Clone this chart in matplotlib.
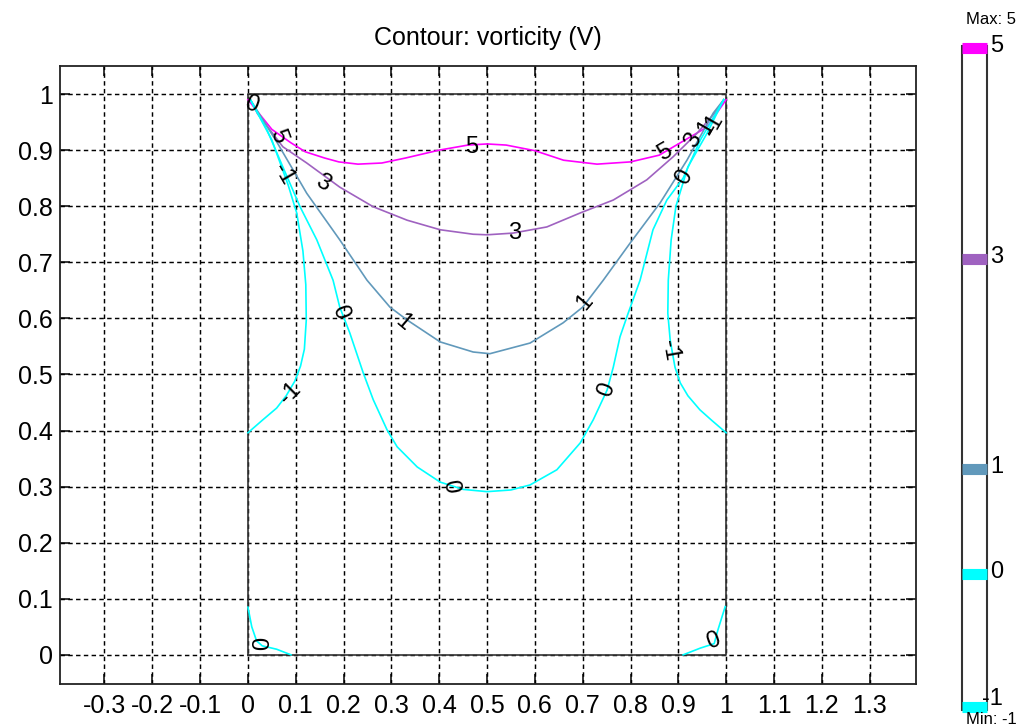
import numpy as np
import matplotlib
matplotlib.use("Agg")
import matplotlib.pyplot as plt
from matplotlib.ticker import FixedLocator, FuncFormatter

plt.rcParams['font.family'] = ['Liberation Sans', 'DejaVu Sans']
plt.rcParams['axes.unicode_minus'] = False
plt.rcParams['lines.scale_dashes'] = False

# ---------------- data ----------------
levels = [5, 3, 1, 0, -1]
level_colors = {5: '#ff00ff', 3: '#9f62c0', 1: '#6199bb', 0: '#00ffff', -1: '#00ffff'}

x5 = [0.0, 0.05, 0.09, 0.12, 0.16, 0.19, 0.23, 0.28, 0.33, 0.40, 0.46, 0.50,
      0.54, 0.60, 0.66, 0.73, 0.80, 0.86, 0.90, 0.96, 1.0]
y5 = [0.99, 0.937, 0.913, 0.897, 0.886, 0.879, 0.875, 0.877, 0.886, 0.900, 0.909, 0.911,
      0.909, 0.899, 0.882, 0.875, 0.879, 0.891, 0.911, 0.941, 0.99]

x3 = [0.005, 0.02, 0.073, 0.123, 0.192, 0.262, 0.333, 0.402, 0.471, 0.50, 0.554,
      0.625, 0.695, 0.764, 0.834, 0.889, 0.939, 0.98, 0.995]
y3 = [0.99, 0.965, 0.906, 0.877, 0.834, 0.799, 0.775, 0.758, 0.750, 0.749, 0.752,
      0.763, 0.788, 0.811, 0.847, 0.888, 0.930, 0.97, 0.99]

x1 = [0.005, 0.06, 0.123, 0.192, 0.249, 0.297, 0.333, 0.402, 0.471, 0.506, 0.59,
      0.659, 0.70, 0.743, 0.799, 0.862, 0.918, 0.973, 0.995]
y1 = [0.99, 0.915, 0.823, 0.740, 0.668, 0.620, 0.597, 0.558, 0.540, 0.537, 0.556,
      0.592, 0.620, 0.668, 0.734, 0.806, 0.882, 0.966, 0.99]

x0 = [0.005, 0.04, 0.073, 0.109, 0.144, 0.178, 0.192, 0.213, 0.241, 0.262, 0.291,
      0.312, 0.354, 0.402, 0.45, 0.50, 0.55, 0.59, 0.646, 0.695, 0.722, 0.751,
      0.764, 0.778, 0.795, 0.820, 0.847, 0.876, 0.91, 0.946, 0.995]
y0 = [0.99, 0.936, 0.870, 0.799, 0.740, 0.668, 0.620, 0.574, 0.503, 0.455, 0.401,
      0.371, 0.335, 0.308, 0.295, 0.291, 0.294, 0.303, 0.330, 0.378, 0.419, 0.472,
      0.513, 0.567, 0.609, 0.668, 0.758, 0.811, 0.85, 0.918, 0.99]

x0_bl = [0.0, 0.008, 0.018, 0.03, 0.06, 0.09]
y0_bl = [0.085, 0.05, 0.025, 0.016, 0.01, 0.0]
x0_br = [0.91, 0.946, 0.975, 0.983, 0.998]
y0_br = [0.0, 0.012, 0.02, 0.045, 0.086]

xm1_l = [0.005, 0.05, 0.084, 0.102, 0.115, 0.121, 0.122, 0.118, 0.110, 0.098, 0.080,
         0.060, 0.031, 0.0]
ym1_l = [0.99, 0.918, 0.838, 0.788, 0.72, 0.66, 0.597, 0.545, 0.515, 0.488, 0.462,
         0.440, 0.419, 0.396]
xm1_r = [0.995, 0.96, 0.92, 0.895, 0.885, 0.879, 0.878, 0.883, 0.893, 0.904, 0.920,
         0.945, 0.970, 1.0]
ym1_r = [0.99, 0.93, 0.87, 0.80, 0.74, 0.668, 0.609, 0.561, 0.513, 0.485, 0.462,
         0.437, 0.418, 0.396]

# contour labels: text, x, y, rotation
lab_text = ['0', '5', '-1', '3', '5', '3', '1', '1', '0', '0', '0', '0', '-1', '-1',
            '5', '3', '1', '-1', '0', '0']
lab_x = [0.008, 0.062, 0.075, 0.157, 0.468, 0.558, 0.325, 0.705, 0.192, 0.423, 0.751,
         0.912, 0.088, 0.883, 0.872, 0.932, 0.958, 0.972, 0.031, 0.973]
lab_y = [0.982, 0.925, 0.857, 0.842, 0.906, 0.752, 0.592, 0.629, 0.612, 0.300, 0.472,
         0.852, 0.467, 0.544, 0.896, 0.918, 0.940, 0.945, 0.020, 0.024]
lab_rot = [-20, -70, -60, -30, 0, 0, -40, 50, -70, -80, 70, 60, 45, -80,
           30, 60, 60, 60, 90, 20]

xticks = [-0.3, -0.2, -0.1, 0, 0.1, 0.2, 0.3, 0.4, 0.5, 0.6, 0.7, 0.8, 0.9,
          1.0, 1.1, 1.2, 1.3]
yticks = [0, 0.1, 0.2, 0.3, 0.4, 0.5, 0.6, 0.7, 0.8, 0.9, 1.0]

cbar_levels = [5, 3, 1, 0, -1]
cbar_labels = ['5', '3', '1', '0', '-1']

# ---------------- figure ----------------
W, H = 1030, 728
fig = plt.figure(figsize=(W / 100, H / 100), dpi=100)
ax = fig.add_axes([60 / W, 44 / H, 856 / W, 618 / H])
ax.set_xlim(-0.393, 1.397)
ax.set_ylim(-0.052, 1.05)

ax.xaxis.set_major_locator(FixedLocator(xticks))
ax.yaxis.set_major_locator(FixedLocator(yticks))
fmt = FuncFormatter(lambda v, p: ('%g' % round(v, 2)))
ax.xaxis.set_major_formatter(fmt)
ax.yaxis.set_major_formatter(fmt)
ax.tick_params(direction='in', length=7, width=1.1, labelsize=18, pad=5,
               top=True, right=True, colors='black')
ax.tick_params(axis='x', pad=7)
ax.grid(True, color='black', linestyle=(0, (3.2, 2.4)), linewidth=1.05)
for s in ax.spines.values():
    s.set_linewidth(1.3)
    s.set_color('#222222')

# domain box
ax.plot([0, 1, 1, 0, 0], [0, 0, 1, 1, 0], color='#333333', lw=1.2, zorder=3)

lw = 1.2
ax.plot(x5, y5, color=level_colors[5], lw=lw, zorder=4)
ax.plot(x3, y3, color=level_colors[3], lw=lw, zorder=4)
ax.plot(x1, y1, color=level_colors[1], lw=lw, zorder=4)
for xs, ys in [(x0, y0), (x0_bl, y0_bl), (x0_br, y0_br)]:
    ax.plot(xs, ys, color=level_colors[0], lw=lw, zorder=4)
for xs, ys in [(xm1_l, ym1_l), (xm1_r, ym1_r)]:
    ax.plot(xs, ys, color=level_colors[-1], lw=lw, zorder=4)

for t, lx, ly, r in zip(lab_text, lab_x, lab_y, lab_rot):
    ax.text(lx, ly, t, rotation=r, ha='center', va='center', fontsize=17,
            color='black', zorder=5, rotation_mode='anchor')

ax.set_title('Contour: vorticity (V)', fontsize=18, pad=15)

# ---------------- colorbar ----------------
def fwd(v):
    v = np.asarray(v, dtype=float)
    return np.where(v < 0, v * 1.262, v)

def inv(u):
    u = np.asarray(u, dtype=float)
    return np.where(u < 0, u / 1.262, u)

cax = fig.add_axes([962 / W, 18 / H, 25 / W, (710 - 46) / H])
cax.set_yscale('function', functions=(fwd, inv))
cax.set_ylim(-1.02, 5.02)
cax.set_xlim(0, 1)
cax.set_xticks([])
cax.set_yticks([])
for s in ['left', 'right']:
    cax.spines[s].set_linewidth(1.5)
    cax.spines[s].set_color('#333333')
for s in ['top', 'bottom']:
    cax.spines[s].set_visible(False)
for lv, lb in zip(cbar_levels, cbar_labels):
    cax.plot([0, 1], [lv, lv], color=level_colors[lv], lw=8, solid_capstyle='butt',
             clip_on=False, zorder=3)
    cax.text(1.12 if lv >= 0 else 0.8, lv + (0.02 if lv >= 0 else 0.06), lb,
             transform=cax.get_yaxis_transform(),
             ha='left', va='center', fontsize=17)
fig.text(991 / W, 1 - 20 / H, 'Max: 5', ha='center', va='center', fontsize=12)
fig.text(991 / W, 1 - 719 / H, 'Min: -1', ha='center', va='center', fontsize=12)

fig.savefig('out.png', dpi=100)
